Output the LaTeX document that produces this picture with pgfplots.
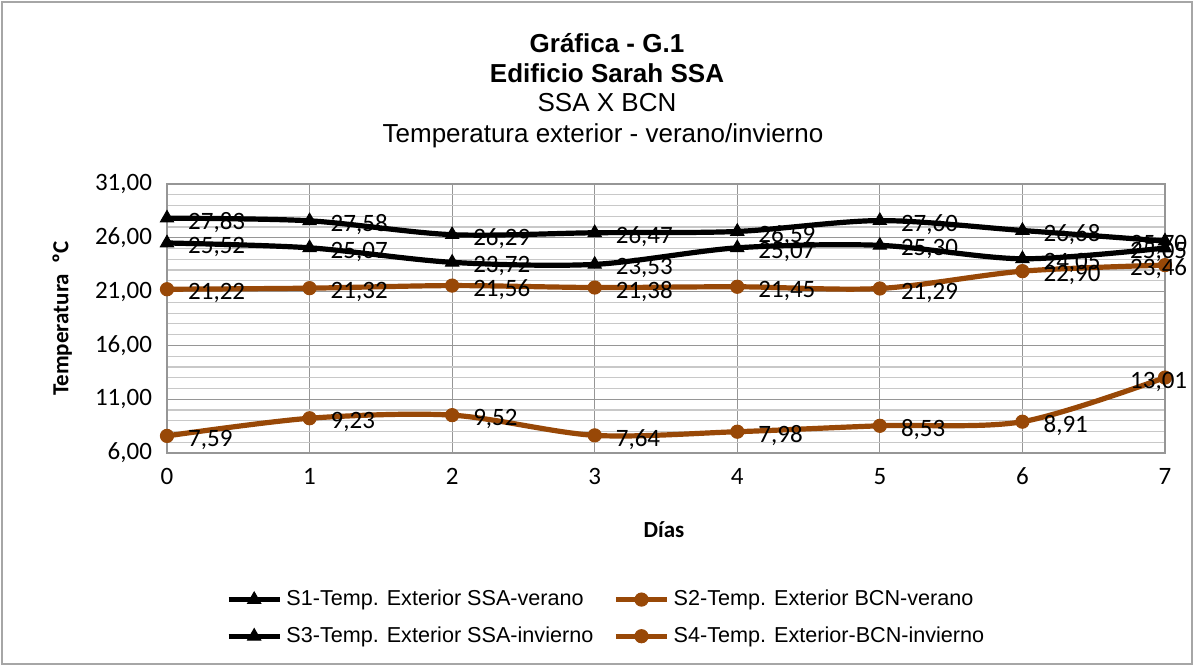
\documentclass[border=0pt]{standalone}
\usepackage{fontspec}
\setmainfont{Liberation Sans}
\newfontfamily\carlito{Carlito}
\usepackage{pgfplots}
\pgfplotsset{compat=1.18}
\definecolor{brn}{RGB}{152,72,7}
\definecolor{gridc}{RGB}{150,150,150}
\definecolor{mgridc}{RGB}{200,200,200}
\begin{document}
\begin{tikzpicture}
\useasboundingbox (-83.5pt,-106.5pt) rectangle (513.5pt,226.5pt);
\draw[gray!70,line width=0.6pt] (-82.5pt,-105.5pt) rectangle (512.5pt,225.5pt);
\begin{axis}[
  at={(0pt,0pt)}, anchor=south west,
  scale only axis, width=499pt, height=134.5pt,
  xmin=0, xmax=7, ymin=6, ymax=31,
  xtick={0,...,7}, ytick={6,11,16,21,26,31},
  minor y tick num=4,
  grid=both,
  major grid style={gridc, line width=0.6pt},
  minor grid style={mgridc, line width=0.6pt},
  axis line style={gridc, line width=0.6pt},
  tick style={draw=none},
  /pgf/number format/assume math mode=true,
  /pgf/number format/.cd, use comma, fixed, fixed zerofill, precision=2, 1000 sep={},
  /pgfplots/.cd,
  xticklabel={\pgfmathprintnumber[fixed,precision=0,fixed zerofill=false]{\tick}},
  ticklabel style={font=\carlito\fontsize{12.5}{14}\selectfont, text=black},
  xticklabel style={yshift=-4pt},
  yticklabel style={xshift=-4pt},
  xlabel={\carlito\bfseries Días},
  ylabel={\carlito\bfseries Temperatura \ ºC},
  every axis x label/.style={at={(axis description cs:0.498,-0.286)}, anchor=center, font=\fontsize{11.5}{13}\selectfont},
  every axis y label/.style={at={(axis description cs:-0.105,0.5)}, anchor=center, rotate=90, font=\fontsize{11.5}{13}\selectfont},
  nodes near coords,
  every node near coord/.append style={font=\carlito\fontsize{12.5}{14}\selectfont, anchor=west, xshift=7pt, yshift=-2pt, text=black},
  coordinate style/.condition={x==7}{xshift=-28pt},
  legend columns=2,
  legend cell align=left,
  legend style={draw=none, fill=none, at={(axis description cs:0.441,-0.613)}, anchor=center,
    font=\fontsize{10.8}{12}\selectfont,
    /tikz/every even column/.append style={column sep=8pt},
    row sep=5pt, inner sep=0pt},
  legend image code/.code={\draw[mark repeat=2,mark phase=2,#1] plot coordinates {(0cm,0cm) (0.45cm,0cm) (0.9cm,0cm)};},
  clip=false,
]
\addplot[black, line width=2.6pt, smooth, tension=0.5, mark=triangle*, mark size=3.8pt, mark options={solid,line width=0.5pt}] coordinates {
(0,27.83) (1,27.58) (2,26.29) (3,26.47) (4,26.59) (5,27.60) (6,26.68) (7,25.70)};
\addlegendentry{S1-Temp. Exterior SSA-verano}
\addplot[brn, line width=2.6pt, smooth, tension=0.5, mark=*, mark size=3.3pt, mark options={solid,line width=0.5pt}] coordinates {
(0,21.22) (1,21.32) (2,21.56) (3,21.38) (4,21.45) (5,21.29) (6,22.90) (7,23.46)};
\addlegendentry{S2-Temp. Exterior BCN-verano}
\addplot[black, line width=2.6pt, smooth, tension=0.5, mark=triangle*, mark size=3.8pt, mark options={solid,line width=0.5pt}] coordinates {
(0,25.52) (1,25.07) (2,23.72) (3,23.53) (4,25.07) (5,25.30) (6,24.05) (7,25.05)};
\addlegendentry{S3-Temp. Exterior SSA-invierno}
\addplot[brn, line width=2.6pt, smooth, tension=0.5, mark=*, mark size=3.3pt, mark options={solid,line width=0.5pt}] coordinates {
(0,7.59) (1,9.23) (2,9.52) (3,7.64) (4,7.98) (5,8.53) (6,8.91) (7,13.01)};
\addlegendentry{S4-Temp. Exterior-BCN-invierno}
\end{axis}
\node[font=\bfseries\fontsize{13}{15}\selectfont] at (220pt,205pt) {Gráfica - G.1};
\node[font=\bfseries\fontsize{13}{15}\selectfont] at (220pt,190pt) {Edificio Sarah SSA};
\node[font=\fontsize{13}{15}\selectfont] at (220pt,175pt) {SSA X BCN};
\node[font=\fontsize{13}{15}\selectfont] at (218pt,158.5pt) {Temperatura exterior - verano/invierno};
\end{tikzpicture}
\end{document}
